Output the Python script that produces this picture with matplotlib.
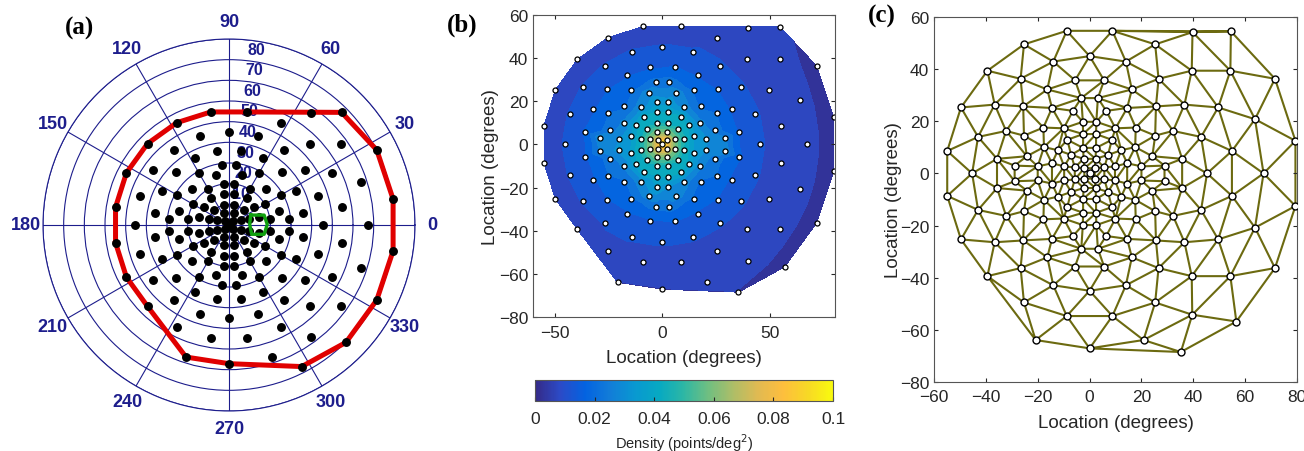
import numpy as np
import matplotlib
matplotlib.use("Agg")
import matplotlib.pyplot as plt
import matplotlib.tri as mtri
from matplotlib.colors import LinearSegmentedColormap, Normalize
from matplotlib.cm import ScalarMappable

# Test point locations (degrees), grouped by ring
pts_x = [
    0.0,
    2.0, -2.0, -2.0, 2.0,
    2.3, -2.3, -2.3, 2.3, 5.7, -5.7, -5.7, 5.7,
    2.5, -2.5, -2.5, 2.5, 7.1, -7.1, -7.1, 7.1, 9.8, -9.8, -9.8, 9.8,
    2.5, -2.5, -2.5, 2.5, 8.6, -8.6, -8.6, 8.6, 12.2, -12.2, -12.2, 12.2, 14.5, -14.5, -14.5, 14.5,
    2.6, -2.6, -2.6, 2.6, 10.0, -10.0, -10.0, 10.0, 17.6, -17.6, -17.6, 17.6, 20.0, -20.0, -20.0, 20.0,
    6.4, -6.4, -6.4, 6.4, 17.8, -17.8, -17.8, 17.8, 24.2, -24.2, -24.2, 24.2,
    3.2, -3.2, -3.2, 3.2, 14.5, -14.5, -14.5, 14.5, 25.3, -25.3, -25.3, 25.3, 28.9, -28.9, -28.9, 28.9,
    5.6, -5.6, -5.6, 5.6, 16.3, -16.3, -16.3, 16.3, 25.6, -25.6, -25.6, 25.6,
    32.2, -32.2, -32.2, 32.2, 35.7, -35.7, -35.7, 35.7,
    0.0, 0.0, 45.3, -45.3, 14.0, -14.0, -14.0, 14.0, 26.6, -26.6, -26.6, 26.6,
    36.6, -36.6, -36.6, 36.6, 43.0, -43.0, -43.0, 43.0,
    8.8, -8.8, -8.8, 8.8, 25.3, -25.3, -25.3, 25.3, 39.4, -39.4, -39.4, 39.4,
    49.6, -49.6, -49.6, 49.6, 54.9, -54.9, -54.9, 54.9,
    -20.8, 0.0, 20.8, 39.6, 54.3, 63.8, 67.1, 63.8, 54.3, 39.7,
    79.4, 79.4, 71.5, 71.5, 54.5, 56.6, 35.2,
]
pts_y = [
    0.0,
    2.0, 2.0, -2.0, -2.0,
    5.6, 5.6, -5.6, -5.6, 2.3, 2.3, -2.3, -2.3,
    9.8, 9.8, -9.8, -9.8, 7.1, 7.1, -7.1, -7.1, 2.7, 2.7, -2.7, -2.7,
    15.1, 15.1, -15.1, -15.1, 12.9, 12.9, -12.9, -12.9, 8.9, 8.9, -8.9, -8.9, 3.9, 3.9, -3.9, -3.9,
    19.8, 19.8, -19.8, -19.8, 17.3, 17.3, -17.3, -17.3, 10.1, 10.1, -10.1, -10.1, 2.7, 2.7, -2.7, -2.7,
    24.0, 24.0, -24.0, -24.0, 17.6, 17.6, -17.6, -17.6, 6.6, 6.6, -6.6, -6.6,
    28.9, 28.9, -28.9, -28.9, 25.1, 25.1, -25.1, -25.1, 14.5, 14.5, -14.5, -14.5, 3.0, 3.0, -3.0, -3.0,
    35.7, 35.7, -35.7, -35.7, 32.2, 32.2, -32.2, -32.2, 25.7, 25.7, -25.7, -25.7,
    16.3, 16.3, -16.3, -16.3, 5.6, 5.6, -5.6, -5.6,
    45.0, -45.0, 0.0, 0.0, 42.9, 42.9, -42.9, -42.9, 36.3, 36.3, -36.3, -36.3,
    26.4, 26.4, -26.4, -26.4, 14.0, 14.0, -14.0, -14.0,
    54.7, 54.7, -54.7, -54.7, 49.5, 49.5, -49.5, -49.5, 39.4, 39.4, -39.4, -39.4,
    25.3, 25.3, -25.3, -25.3, 8.6, 8.6, -8.6, -8.6,
    -63.9, -67.1, -63.9, -54.2, -39.4, -20.8, 0.0, 20.8, 39.4, 54.2,
    12.5, -12.5, 36.3, -36.3, 54.5, -56.8, -68.5,
]

# green outline round the blind spot, panel (a)
blind_x = [10.5, 17.0, 18.5, 17.0, 11.0, 10.0, 10.5]
blind_y = [4.8, 4.8, 0.3, -4.5, -4.5, 0.3, 4.8]

theta_ticks = [0, 30, 60, 90, 120, 150, 180, 210, 240, 270, 300, 330]
ring_ticks = [10, 20, 30, 40, 50, 60, 70, 80]
cbar_ticks = [0, 0.02, 0.04, 0.06, 0.08, 0.1]
cbar_labels = ["0", "0.02", "0.04", "0.06", "0.08", "0.1"]
loc_ticks_b_x = [-50, 0, 50]
loc_ticks_y = [-80, -60, -40, -20, 0, 20, 40, 60]
loc_ticks_c_x = [-60, -40, -20, 0, 20, 40, 60, 80]

NAVY = "#1d1d8c"
OLIVE = "#6c6a10"
INK = "#262626"
SANS = ["Liberation Sans", "DejaVu Sans"]
SERIF = ["Liberation Serif", "DejaVu Serif"]
TICK_FS = 12.5
LABEL_FS = 13.5

# rough parula colormap
parula = LinearSegmentedColormap.from_list("parula", [
    (0.2081, 0.1663, 0.5292), (0.1707, 0.2919, 0.7792), (0.0117, 0.3875, 0.8820),
    (0.0723, 0.4887, 0.8467), (0.0343, 0.5966, 0.8199), (0.0267, 0.6642, 0.7607),
    (0.1801, 0.7177, 0.6424), (0.4420, 0.7481, 0.5033), (0.6834, 0.7435, 0.4044),
    (0.8824, 0.7274, 0.3217), (0.9938, 0.7455, 0.2403), (0.9697, 0.8481, 0.1475),
    (0.9763, 0.9831, 0.0538)])


def convex_hull(px, py):
    pts = sorted(set(zip(px, py)))

    def cross(o, a, b):
        return (a[0] - o[0]) * (b[1] - o[1]) - (a[1] - o[1]) * (b[0] - o[0])

    lower, upper = [], []
    for p in pts:
        while len(lower) >= 2 and cross(lower[-2], lower[-1], p) <= 0:
            lower.pop()
        lower.append(p)
    for p in reversed(pts):
        while len(upper) >= 2 and cross(upper[-2], upper[-1], p) <= 0:
            upper.pop()
        upper.append(p)
    hull = lower[:-1] + upper[:-1]
    hull.append(hull[0])
    return np.array(hull)


x = np.array(pts_x)
y = np.array(pts_y)
tri = mtri.Triangulation(x, y)

# point density: 1 / (2 * mean area of the triangles touching each point),
# points on the outer edge get a lower weight (open cell)
t = tri.triangles
xa, ya = x[t], y[t]
area = 0.5 * np.abs((xa[:, 1] - xa[:, 0]) * (ya[:, 2] - ya[:, 0])
                    - (xa[:, 2] - xa[:, 0]) * (ya[:, 1] - ya[:, 0]))
area_sum = np.zeros(len(x))
n_tri = np.zeros(len(x))
np.add.at(area_sum, t.ravel(), np.repeat(area, 3))
np.add.at(n_tri, t.ravel(), 1)
density = n_tri / (2.0 * area_sum)
on_edge = np.zeros(len(x), dtype=bool)
for k in range(3):
    open_side = tri.neighbors[:, k] == -1
    on_edge[t[open_side, k]] = True
    on_edge[t[open_side, (k + 1) % 3]] = True
density[on_edge] *= 0.6
# the published map looks a bit flatter than a raw 1/area estimate
density = 0.085 * (density / 0.085) ** 0.85

fig = plt.figure(figsize=(13.04, 4.52), dpi=100)

# ---- (a) polar view ----
axa = fig.add_axes([43 / 1304, 40 / 452, 372 / 1304, 372 / 452], projection="polar")
axa.set_ylim(0, 90)
axa.set_yticks(ring_ticks + [90])
axa.set_yticklabels([])
axa.set_xticks(np.deg2rad(theta_ticks))
axa.set_xticklabels([str(v) for v in theta_ticks], fontsize=13, fontweight="bold",
                    color=NAVY, family=SANS)
axa.tick_params(axis="x", pad=2)
axa.grid(True, color=NAVY, linewidth=0.8, linestyle="-")
axa.spines["polar"].set_color(NAVY)
axa.spines["polar"].set_linewidth(0.8)
for rv in ring_ticks:
    axa.text(np.deg2rad(84), rv + 5.5, str(rv), ha="left", va="center",
             fontsize=11.5, fontweight="bold", color=NAVY, family=SANS)

hull = convex_hull(pts_x, pts_y)
axa.plot(np.arctan2(hull[:, 1], hull[:, 0]), np.hypot(hull[:, 0], hull[:, 1]),
         color="#e00000", linewidth=3.6, solid_joinstyle="miter", zorder=3)
axa.plot(np.arctan2(y, x), np.hypot(x, y), "o", color="k", markersize=5.4, zorder=4)
bx, by = np.array(blind_x), np.array(blind_y)
axa.plot(np.arctan2(by, bx), np.hypot(bx, by), color="#10a010", linewidth=2.4, zorder=5)

# ---- (b) density ----
axb = fig.add_axes([533 / 1304, 134 / 452, 302 / 1304, 302 / 452])
levels = np.linspace(0, 0.1, 21)
axb.tricontourf(tri, np.clip(density, 0, 0.0999), levels=levels, cmap=parula)
axb.plot(x, y, "o", markerfacecolor="white", markeredgecolor="k", markersize=3.6,
         markeredgewidth=0.9)
axb.set_xlim(-60, 80)
axb.set_ylim(-80, 60)
axb.set_xticks(loc_ticks_b_x)
axb.set_yticks(loc_ticks_y)
axb.set_xlabel("Location (degrees)", fontsize=LABEL_FS, family=SANS, color=INK)
axb.set_ylabel("Location (degrees)", fontsize=LABEL_FS, family=SANS, color=INK)
axb.xaxis.set_label_coords(0.5, -0.106)
axb.yaxis.set_label_coords(-0.114, 0.5)

cax = fig.add_axes([535 / 1304, 50 / 452, 298 / 1304, 21 / 452])
cb = fig.colorbar(ScalarMappable(norm=Normalize(0, 0.1), cmap=parula), cax=cax,
                  orientation="horizontal")
cb.set_ticks(cbar_ticks)
cb.set_ticklabels(cbar_labels)
cb.ax.tick_params(direction="in", length=3, labelsize=TICK_FS, colors=INK, pad=7)
cb.outline.set_edgecolor("#555555")
cb.set_label("Density (points/deg$^2$)", fontsize=10.5, family=SANS, color=INK, labelpad=4)

# ---- (c) triangulation ----
axc = fig.add_axes([934 / 1304, 69 / 452, 363 / 1304, 365 / 452])
axc.triplot(tri, color=OLIVE, linewidth=1.5)
axc.plot(x, y, "o", markerfacecolor="white", markeredgecolor="k", markersize=5.0,
         markeredgewidth=1.0, zorder=3)
axc.set_xlim(-60, 80)
axc.set_ylim(-80, 60)
axc.set_xticks(loc_ticks_c_x)
axc.set_yticks(loc_ticks_y)
axc.set_xlabel("Location (degrees)", fontsize=LABEL_FS, family=SANS, color=INK)
axc.set_ylabel("Location (degrees)", fontsize=LABEL_FS, family=SANS, color=INK)
axc.xaxis.set_label_coords(0.5, -0.088)
axc.yaxis.set_label_coords(-0.088, 0.5)

for ax in (axb, axc):
    ax.tick_params(direction="in", top=True, right=True, length=3, labelsize=TICK_FS,
                   colors=INK)
    for lab in ax.get_xticklabels() + ax.get_yticklabels():
        lab.set_family(SANS)
    for sp in ax.spines.values():
        sp.set_edgecolor("#555555")
        sp.set_linewidth(0.8)
axb.tick_params(axis="x", pad=6)
axc.tick_params(axis="x", pad=5)

for lab in cb.ax.get_xticklabels():
    lab.set_family(SANS)

fig.text(79 / 1304, 1 - 28 / 452, "(a)", fontsize=18, fontweight="bold", family=SERIF,
         ha="center", va="center")
fig.text(462 / 1304, 1 - 25 / 452, "(b)", fontsize=18, fontweight="bold", family=SERIF,
         ha="center", va="center")
fig.text(882 / 1304, 1 - 16 / 452, "(c)", fontsize=18, fontweight="bold", family=SERIF,
         ha="center", va="center")

fig.savefig("out.png", dpi=100)
